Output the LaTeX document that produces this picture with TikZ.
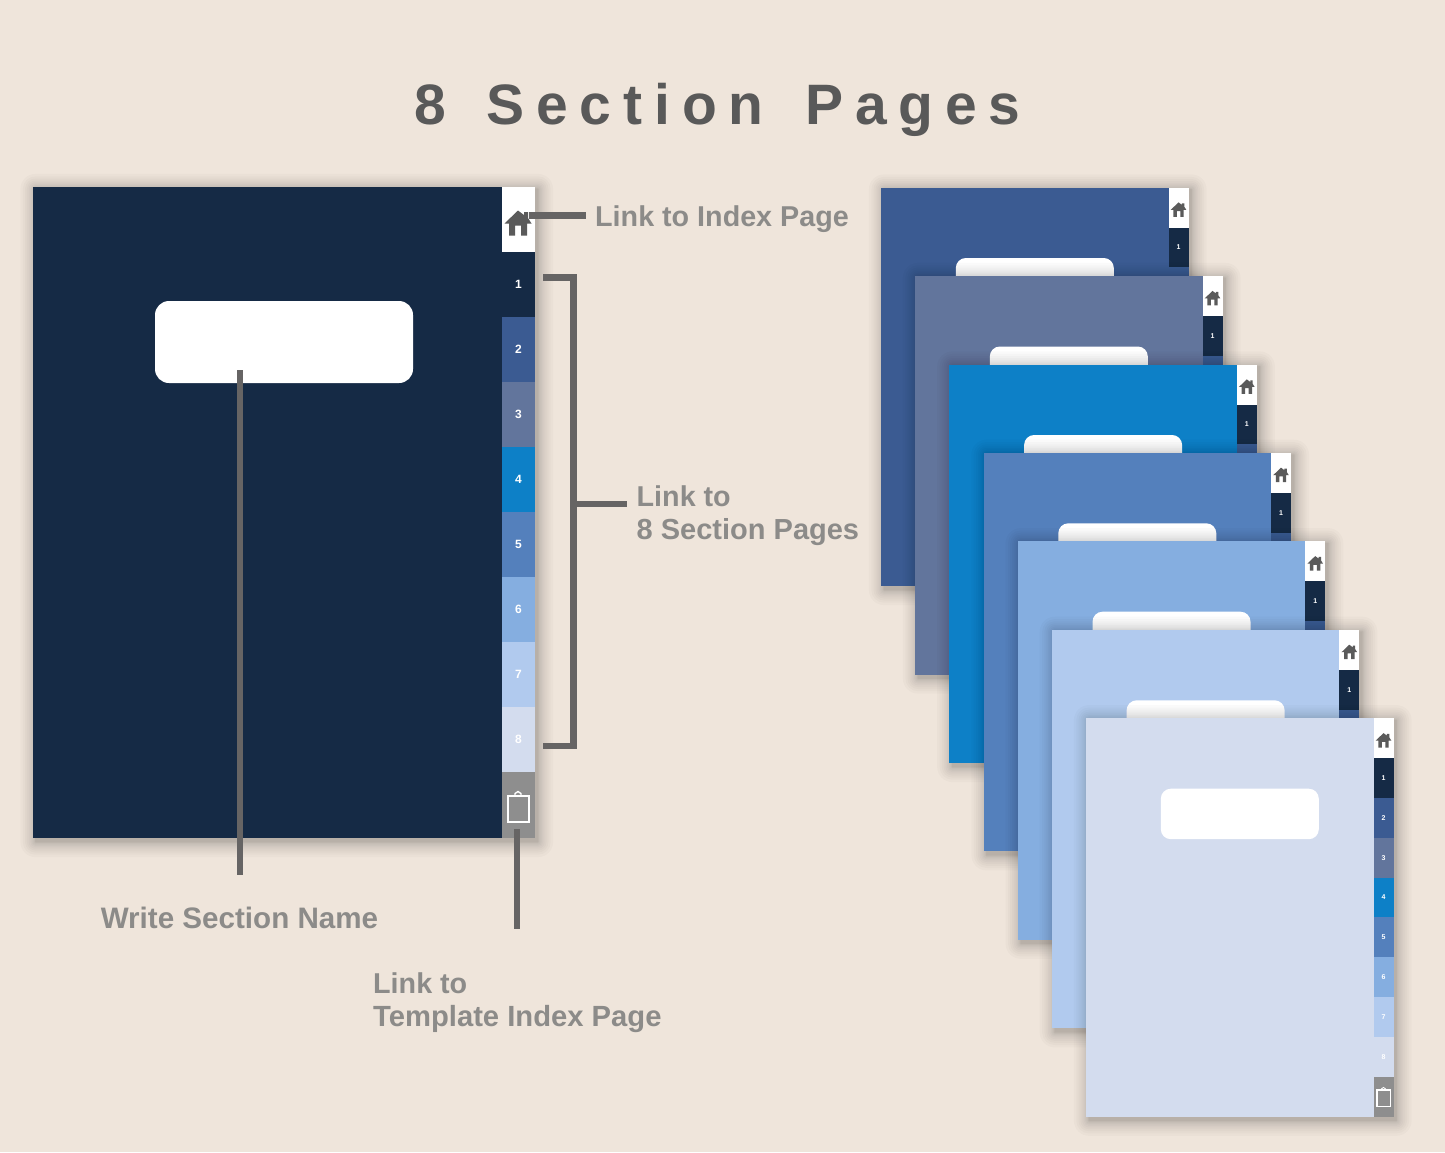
\documentclass[tikz,border=0pt]{standalone}
\usepackage{fontspec}
\setmainfont{Liberation Sans}
\newfontfamily\titlefont[LetterSpace=20.8,Ligatures=NoCommon]{Liberation Sans}
\definecolor{bgc}{HTML}{EFE5DB}
\definecolor{linec}{HTML}{666464}
\definecolor{labelc}{HTML}{8C8B89}
\definecolor{titlec}{HTML}{595959}
\definecolor{iconc}{HTML}{5A5A5A}
\definecolor{tabA}{HTML}{152A45}
\definecolor{tabB}{HTML}{3B5B92}
\definecolor{tabC}{HTML}{62759C}
\definecolor{tabD}{HTML}{0D80C7}
\definecolor{tabE}{HTML}{5480BC}
\definecolor{tabF}{HTML}{85AEE0}
\definecolor{tabG}{HTML}{B1CAEE}
\definecolor{tabH}{HTML}{D3DCEE}
\definecolor{tabT}{HTML}{8E8E8E}
\tikzset{
  flat/.style={inner sep=0pt,outer sep=0pt,draw=none,anchor=north west},
  lbl/.style={inner sep=0pt,anchor=base west,text=labelc,font=\fontsize{28.7}{33}\selectfont\bfseries},
  conn/.style={draw=linec,line width=6.6pt,line cap=butt,line join=miter},
  num/.style={inner sep=0pt,text=white,font=\bfseries},
}
% soft shadow round a rectangle whose top left is the current origin
\newcommand{\softshade}[2]{%
  \foreach \k in {1,...,12}{%
    \pgfmathsetmacro{\e}{0.105*\k*\k}%
    \fill[black,opacity=.018,rounded corners=\e pt]
      ({3-\e},{2-\e}) rectangle ({#1+3+\e},{#2+4+\e});
  }}
% house icon, origin at the eaves' centre
\newcommand{\houseicon}[3]{%
  \begin{scope}[shift={(#1,#2)},scale=#3]
    \fill[iconc] (0,-14) -- (6,-9.5) -- (6,-12.5) -- (10,-12.5) -- (10,-6.5) -- (13.5,-1) -- (9,-1)
      -- (9,11) -- (3,11) -- (3,1) -- (-3,1) -- (-3,11) -- (-9,11) -- (-9,-1) -- (-13.5,-1) -- cycle;
  \end{scope}}
% clipboard icon, origin at the centre
\newcommand{\clipicon}[3]{%
  \begin{scope}[shift={(#1,#2)},scale=#3]
    \draw[white,line width=#3*2pt] (-10.5,-13) rectangle (10.5,13);
    \draw[white,line width=#3*1.4pt] (-3,-13) -- (-3,-15) -- (0,-17) -- (3,-15) -- (3,-13);
  \end{scope}}
\begin{document}
\begin{tikzpicture}[x=1pt,y=-1pt]
\useasboundingbox (0,0) rectangle (1445,1152);
\fill[bgc] (0,0) rectangle (1445,1152);

% title
\node[inner sep=0pt,anchor=base west,text=titlec,font=\fontsize{57}{60}\selectfont\bfseries] (title) at (414,124)
  {\titlefont 8\hspace{13pt} Section\hspace{14pt} Pages};

% stacked pages
\foreach \i/\px/\py/\col in {1/881/187.5/tabB,2/915/276/tabC,3/949.3/364.5/tabD,4/983.5/452.8/tabE,5/1017.7/541.2/tabF,6/1051.8/629.8/tabG,7/1086/718.2/tabH}{
  \begin{scope}[shift={(\px,\py)}]
    \softshade{307.5}{398.5}
    \node[flat,fill=\col,minimum width=307.5pt,minimum height=398.5pt] (page\i) at (0,0) {};
    \node[flat,fill=white,rounded corners=10pt,minimum width=158pt,minimum height=50.5pt] (pagebox\i) at (74.8,70.5) {};
    \node[flat,fill=white,minimum width=20pt,minimum height=40pt] (pagehome\i) at (287.5,0) {};
    \houseicon{297.5}{23}{.58}
    \foreach \t/\tc/\ty in {1/tabA/40,2/tabB/79.8,3/tabC/119.6,4/tabD/159.4,5/tabE/199.2,6/tabF/239,7/tabG/278.8,8/tabH/318.6}{
      \node[flat,fill=\tc,minimum width=20pt,minimum height=39.8pt] (pagetab\i-\t) at (287.5,\ty) {};
      \node[num,font=\fontsize{7}{8}\selectfont\bfseries] (pagenum\i-\t) at (pagetab\i-\t.center) {\t};
    }
    \node[flat,fill=tabT,minimum width=20pt,minimum height=40.1pt] (pagetrash\i) at (287.5,358.4) {};
    \clipicon{297.5}{380}{.63}
  \end{scope}
}

% large page
\begin{scope}[shift={(32.5,187)}]
  \softshade{502.5}{651}
  \node[flat,fill=tabA,minimum width=502.5pt,minimum height=651pt] (bigpage) at (0,0) {};
  \node[flat,fill=white,rounded corners=14pt,minimum width=258pt,minimum height=82pt] (bigbox) at (122.5,114) {};
  \node[flat,fill=white,minimum width=33pt,minimum height=65pt] (bighome) at (469.5,0) {};
  \houseicon{485.5}{37.5}{1}
  \foreach \t/\tc/\ty in {1/tabA/65,2/tabB/130,3/tabC/195,4/tabD/260,5/tabE/325,6/tabF/390,7/tabG/455,8/tabH/520}{
    \node[flat,fill=\tc,minimum width=33pt,minimum height=65pt] (bigtab\t) at (469.5,\ty) {};
    \node[num,font=\fontsize{12}{14}\selectfont\bfseries] (bignum\t) at (bigtab\t.center) {\t};
  }
  \node[flat,fill=tabT,minimum width=33pt,minimum height=66pt] (bigtrash) at (469.5,585) {};
  \clipicon{485.5}{621.5}{1}
\end{scope}

% labels
\node[lbl] (indexlabel) at (595,226) {Link to Index Page};
\node[lbl] (sectionlabelA) at (636.5,506) {Link to};
\node[lbl,font=\fontsize{29}{33}\selectfont\bfseries] (sectionlabelB) at (636.5,539) {8 Section Pages};
\node[lbl,anchor=base,font=\fontsize{29.6}{33}\selectfont\bfseries] (namelabel) at (239.5,928) {Write Section Name};
\node[lbl] (templatelabelA) at (373,993) {Link to};
\node[lbl,font=\fontsize{29.2}{33}\selectfont\bfseries] (templatelabelB) at (373,1026) {Template Index Page};

% connector ends
\coordinate (homeEnd) at (529,215.5);
\coordinate (homeLabelEnd) at (586,215.5);
\coordinate (brTop) at (543,277.5);
\coordinate (brBot) at (543,746);
\coordinate (brCorner) at (573.5,277.5);
\coordinate (brMid) at (573.5,504);
\coordinate (brLabelEnd) at (627,504);
\coordinate (nameTop) at (240,370);
\coordinate (nameBot) at (240,875);
\coordinate (trashTop) at (517,829);
\coordinate (trashBot) at (517,929);

% connectors
\draw[conn] (homeEnd) -- (homeLabelEnd);
\draw[conn] (brTop) -- (brCorner) -- (brCorner |- brBot) -- (brBot);
\draw[conn] (brMid) -- (brLabelEnd);
\draw[conn] (nameTop) -- (nameBot);
\draw[conn] (trashTop) -- (trashBot);
\end{tikzpicture}
\end{document}
